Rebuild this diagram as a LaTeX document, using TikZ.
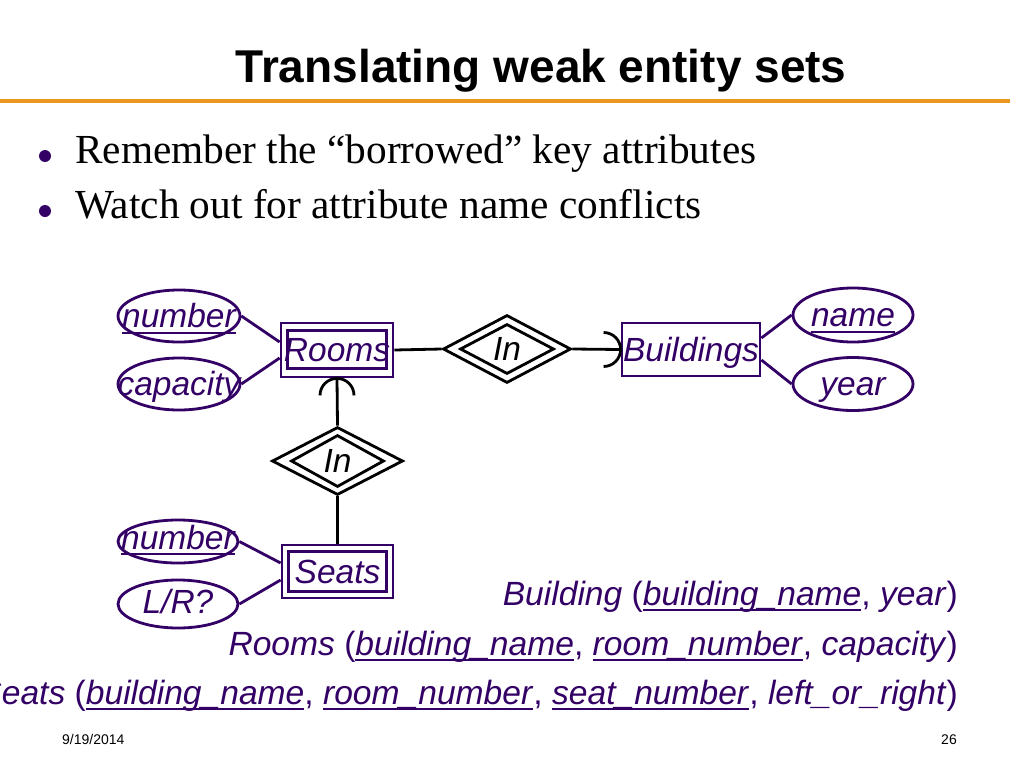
\documentclass[tikz,border=0pt]{standalone}
\usepackage{fontspec}
\setmainfont{Liberation Serif}
\newfontfamily\hv{Liberation Sans}
\usetikzlibrary{shapes.geometric,calc}
\definecolor{erpurple}{RGB}{51,0,102}
\definecolor{barorange}{RGB}{235,150,30}
\newcommand\myul[1]{\setbox0\hbox{#1}\rlap{\rule[-6pt]{\wd0}{2pt}}\box0}
\begin{document}
\begin{tikzpicture}[x=1pt,y=-1pt,
  ertext/.style={font=\hv\itshape\fontsize{33.5}{40}\selectfont, text=erpurple, text height=23.5pt, text depth=0pt, inner sep=0pt},
  reltext/.style={font=\hv\itshape\fontsize{33.5}{40}\selectfont, text=black, text height=23.5pt, text depth=0pt, inner sep=0pt},
  entity/.style={draw=erpurple, line width=2.8pt, rectangle, inner sep=0pt},
  attr/.style={draw=erpurple, line width=2.8pt, ellipse, inner sep=0pt},
  rel/.style={draw=black, line width=2.8pt, diamond, inner sep=0pt},
  link/.style={draw=erpurple, line width=2.8pt},
  rlink/.style={draw=black, line width=2.8pt},
  bottomtext/.style={font=\hv\fontsize{33.6}{40}\selectfont, text=erpurple, inner sep=0pt, anchor=base east},
  bulletdot/.style={fill=erpurple, circle, minimum size=12pt, inner sep=0pt},
  bullettext/.style={font=\fontsize{41.3}{49}\selectfont, anchor=base west, inner sep=0pt}]
\fill[white] (0,0) rectangle (1024,768);
\useasboundingbox (0,0) rectangle (1024,768);

% title and bar
\node[font=\hv\bfseries\fontsize{46}{55}\selectfont, anchor=base, inner sep=0pt] (title) at (541,82) {Translating weak entity sets};
\coordinate (barL) at (0,101);
\coordinate (barR) at (1010,101);
\draw[barorange, line width=4pt] (barL) -- (barR);

% bullets
\node[bulletdot] (dot1) at (45,156) {};
\node[bullettext] (b1) at (75,163) {Remember the “borrowed” key attributes};
\node[bulletdot] (dot2) at (45,211) {};
\node[bullettext] (b2) at (75,218) {Watch out for attribute name conflicts};

% entities
\node[entity, minimum width=112pt, minimum height=54pt, label={[ertext,name=roomsT]center:Rooms}] (rooms) at (337,350) {};
\draw[erpurple, line width=2.8pt] ([shift={(8,9)}]rooms.north west) rectangle ([shift={(-8,-10)}]rooms.south east);
\node[entity, minimum width=111pt, minimum height=53pt, label={[ertext,name=seatsT]center:Seats}] (seats) at (337.5,571.5) {};
\draw[erpurple, line width=2.8pt] ([shift={(8,8)}]seats.north west) rectangle ([shift={(-8,-8)}]seats.south east);
\node[entity, minimum width=138pt, minimum height=53pt, label={[ertext,name=buildT]center:Buildings}] (build) at (691,349.5) {};

% relationships
\node[rel, minimum width=128pt, minimum height=68pt, label={[reltext,name=in1T]center:In}] (in1) at (507,349) {};
\node[rel, minimum width=94pt, minimum height=50pt] (in1i) at (507,349) {};
\node[rel, minimum width=131pt, minimum height=68pt, label={[reltext,name=in2T]center:In}] (in2) at (337.5,461) {};
\node[rel, minimum width=93pt, minimum height=52pt] (in2i) at (337.5,461) {};

% attributes
\node[attr, minimum width=122pt, minimum height=52pt, label={[ertext,name=num1T]center:\myul{number}}] (num1) at (179,316) {};
\node[attr, minimum width=122pt, minimum height=52pt, label={[ertext,name=capT]center:capacity}] (cap) at (179,384) {};
\node[attr, minimum width=120pt, minimum height=54pt, label={[ertext,name=nameT]center:\myul{name}}] (name) at (853,315) {};
\node[attr, minimum width=120pt, minimum height=53pt, label={[ertext,name=yearT]center:year}] (year) at (853,384) {};
\node[attr, minimum width=120pt, minimum height=43pt, label={[ertext,name=num2T,yshift=4pt]center:\myul{number}}] (num2) at (178,541.5) {};
\node[attr, minimum width=120pt, minimum height=48pt, label={[ertext,name=lrT,yshift=2pt]center:L/R?}] (lr) at (178,604) {};

% attribute links
\draw[link] (num1.east) -- ([yshift=8pt]rooms.west);
\draw[link] (cap.east) -- ([yshift=-8pt]rooms.west);
\draw[link] (name.west) -- ([yshift=11.5pt]build.east);
\draw[link] (year.west) -- ([yshift=-10.5pt]build.east);
\draw[link] (num2.east) -- ([yshift=8.5pt]seats.west);
\draw[link] (lr.east) -- ([yshift=-8.5pt]seats.west);

% relationship links
\draw[rlink] (rooms.east) -- (in1.west);
\draw[rlink] (in1.east) -- (build.west);
\draw[rlink] (rooms.south) -- (in2.north);
\draw[rlink] (in2.south) -- (seats.north);

% round arrows (arcs)
\coordinate (bc) at ([xshift=-17pt]build.west);
\draw[rlink] ([shift={(0,-17)}]bc) arc[start angle=-90, end angle=90, radius=17];
\coordinate (rc) at ([yshift=-17pt]rooms.south);
\draw[rlink] ([shift={(-17,0)}]rc) arc[start angle=180, end angle=360, radius=17];

% relational schemas
\node[bottomtext] (sch1) at (958,605) {\textit{Building} (\myul{\textit{building\_name}}, \textit{year})};
\node[bottomtext] (sch2) at (958,655) {\textit{Rooms} (\myul{\textit{building\_name}}, \myul{\textit{room\_number}}, \textit{capacity})};
\node[bottomtext] (sch3) at (958,704) {\textit{Seats} (\myul{\textit{building\_name}}, \myul{\textit{room\_number}}, \myul{\textit{seat\_number}}, \textit{left\_or\_right})};

% footer
\node[font=\hv\fontsize{14}{17}\selectfont, anchor=base west, inner sep=0pt] (date) at (62,744) {9/19/2014};
\node[font=\hv\fontsize{14}{17}\selectfont, anchor=base east, inner sep=0pt] (page) at (957,744) {26};
\end{tikzpicture}
\end{document}
